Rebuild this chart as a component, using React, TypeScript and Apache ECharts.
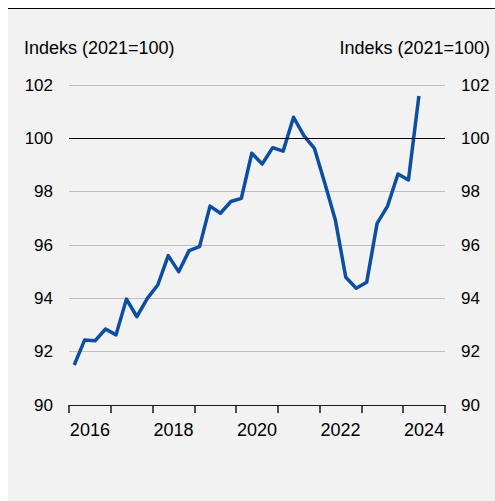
import React, { useEffect, useRef } from "react";
import * as echarts from "echarts";

const years = ["2016", "2017", "2018", "2019", "2020", "2021", "2022", "2023", "2024"];
// Quarterly index values, 2016 Q1 – 2024 Q2
const values = [
  91.5, 92.44, 92.41, 92.85,
  92.63, 93.97, 93.31, 94.0,
  94.5, 95.6, 95.0, 95.79,
  95.94, 97.46, 97.19, 97.63,
  97.75, 99.44, 99.04, 99.65,
  99.52, 100.79, 100.09, 99.62,
  98.31, 96.94, 94.79, 94.38,
  94.6, 96.81, 97.46, 98.66,
  98.44, 101.59,
];
const yTicks = { min: 90, max: 102, interval: 2 };
const axisTitle = "Indeks (2021=100)";
const referenceValue = 100;

export default function App() {
  const ref = useRef<HTMLDivElement>(null);
  useEffect(() => {
    document.documentElement.style.overflow = "hidden";
    const chart = echarts.init(ref.current!, undefined, { renderer: "svg" });
    const font = "'Liberation Sans', Arial, sans-serif";
    const yTxt = { color: "#000", fontSize: 17, fontFamily: font };
    const xTxt = { color: "#000", fontSize: 18, fontFamily: font };
    const quarterCount = years.length * 4;
    chart.setOption({
      animation: false,
      backgroundColor: "#f2f2f2",
      textStyle: { fontFamily: font },
      grid: { left: 61, right: 50, top: 76, bottom: 96, containLabel: false },
      graphic: [
        { type: "text", left: 16, top: 30, style: { text: axisTitle, fill: "#000", fontSize: 18, fontFamily: font } },
        { type: "text", right: 5, top: 30, style: { text: axisTitle, fill: "#000", fontSize: 18, fontFamily: font } },
      ],
      xAxis: [
        {
          type: "category",
          data: years,
          boundaryGap: true,
          axisLine: { show: true, lineStyle: { color: "#1a1a1a", width: 1 } },
          axisTick: { show: true, interval: 0, length: 8, lineStyle: { color: "#1a1a1a", width: 1.5 } },
          axisLabel: { interval: 1, margin: 16, ...xTxt },
          splitLine: { show: false },
        },
        {
          type: "value",
          min: 0,
          max: quarterCount,
          show: false,
        },
      ],
      yAxis: [
        {
          type: "value",
          position: "left",
          ...yTicks,
          axisLine: { show: false },
          axisTick: { show: false },
          axisLabel: { margin: 16, ...yTxt },
          splitLine: { show: true, lineStyle: { color: "#bfbfbf", width: 1 } },
        },
        {
          type: "value",
          position: "right",
          ...yTicks,
          axisLine: { show: false },
          axisTick: { show: false },
          axisLabel: { margin: 16, ...yTxt },
          splitLine: { show: false },
        },
      ],
      series: [
        {
          type: "line",
          xAxisIndex: 1,
          yAxisIndex: 0,
          data: values.map((v, i) => [i + 0.5, v]),
          showSymbol: false,
          symbol: "none",
          lineStyle: { color: "#0b4ea2", width: 3.5, join: "round" },
          markLine: {
            silent: true,
            symbol: "none",
            label: { show: false },
            lineStyle: { color: "#000", width: 1.2, type: "solid" },
            data: [{ yAxis: referenceValue }],
          },
          z: 3,
        },
      ],
    });
    return () => chart.dispose();
  }, []);
  return (
    <div
      style={{
        position: "fixed",
        left: 8,
        top: 8,
        width: 487,
        height: 493,
        background: "#f2f2f2",
        borderTop: "1px solid #000",
        boxSizing: "border-box",
      }}
    >
      <div ref={ref} style={{ width: 487, height: 492 }} />
    </div>
  );
}
